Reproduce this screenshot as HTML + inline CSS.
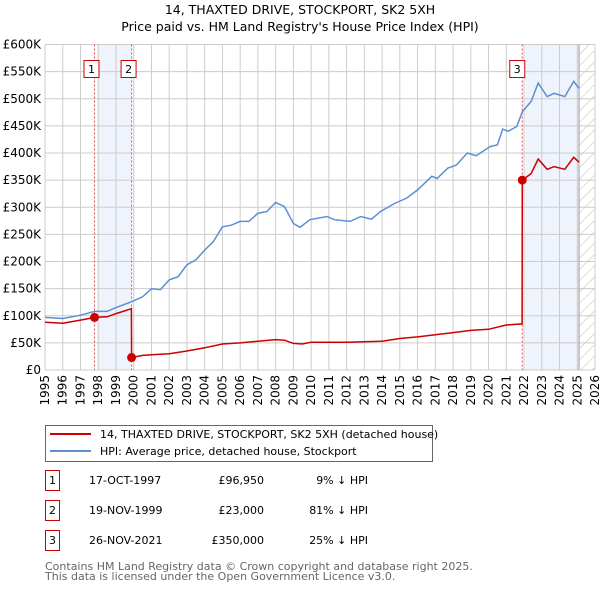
<!DOCTYPE html>
<html><head><meta charset="utf-8"><style>
body{margin:0;background:#fff;font-family:"Liberation Sans","DejaVu Sans",sans-serif;}
svg{display:block}
</style></head><body>
<svg id="chart" width="600" height="590" viewBox="0 0 600 590" xmlns="http://www.w3.org/2000/svg" font-family="DejaVu Sans, Liberation Sans, sans-serif">
<defs><pattern id="hatch" width="8" height="8" patternUnits="userSpaceOnUse" patternTransform="rotate(45)"><line x1="0" y1="0" x2="0" y2="8" stroke="#bbb" stroke-width="1"/></pattern></defs>
<text x="300" y="14" font-size="12.5" text-anchor="middle">14, THAXTED DRIVE, STOCKPORT, SK2 5XH</text>
<text x="300" y="31" font-size="12.5" text-anchor="middle">Price paid vs. HM Land Registry's House Price Index (HPI)</text>
<g id="plot"></g>
<g>
<rect x="45.5" y="425.5" width="387" height="36" fill="#fff" stroke="#666"/>
<line x1="50" y1="434" x2="91" y2="434" stroke="#cc0000" stroke-width="2"/>
<text x="100" y="438" font-size="11">14, THAXTED DRIVE, STOCKPORT, SK2 5XH (detached house)</text>
<line x1="50" y1="451" x2="91" y2="451" stroke="#5b8fd4" stroke-width="2"/>
<text x="100" y="455" font-size="11">HPI: Average price, detached house, Stockport</text>
</g>
<g id="table" font-size="11"></g>
<text x="45" y="570" font-size="11" fill="#666">Contains HM Land Registry data © Crown copyright and database right 2025.</text>
<text x="45" y="580" font-size="11" fill="#666">This data is licensed under the Open Government Licence v3.0.</text>
</svg>
<script>
const hpiYears=[1995,1996,1997,1997.8,1998.5,1999,1999.9,2000.5,2001,2001.5,2002,2002.5,2003,2003.5,2004,2004.5,2005,2005.5,2006,2006.5,2007,2007.5,2008,2008.5,2009,2009.37,2009.93,2010.9,2011.3,2012.2,2012.8,2013.4,2013.9,2014.7,2015.4,2016,2016.8,2017.1,2017.7,2018.2,2018.8,2019.3,2020.1,2020.5,2020.8,2021.1,2021.6,2021.9,2022.4,2022.8,2023.3,2023.7,2024.3,2024.8,2025.1];
const hpiValues=[97,95,101,108,108,115,126,135,150,148,166,172,194,203,221,237,264,267,274,274,289,292,309,301,270,263,277,283,277,274,283,278,292,307,317,332,357,353,372,378,400,395,412,415,444,440,449,476,495,529,504,510,504,532,519];
const redYears=[1995,1996,1997,1997.8,1998.5,1999,1999.87,1999.88,2000.5,2001,2002,2003,2004,2005,2006,2007,2008,2008.5,2009,2009.5,2010,2012,2014,2015,2016,2017,2018,2019,2020,2021,2021.89,2021.9,2022.4,2022.8,2023.3,2023.7,2024.3,2024.8,2025.1];
const redValues=[88,86,92,96.95,98,104,113,23,27,28,30,35,41,48,50,53,56,55,49,48,51,51,53,58,61,65,69,73,75,83,85,350,362,389,370,375,370,392,383];
const saleYears=[1997.79,1999.88,2021.9];
const saleValues=[96.95,23,350];
const saleLabels=["1","2","3"];
const saleDates=["17-OCT-1997","19-NOV-1999","26-NOV-2021"];
const salePrices=["£96,950","£23,000","£350,000"];
const saleDiffs=["9% ↓ HPI","81% ↓ HPI","25% ↓ HPI"];
const yTicks=[0,50,100,150,200,250,300,350,400,450,500,550,600];
const xTicks=[1995,1996,1997,1998,1999,2000,2001,2002,2003,2004,2005,2006,2007,2008,2009,2010,2011,2012,2013,2014,2015,2016,2017,2018,2019,2020,2021,2022,2023,2024,2025,2026];

const X0=45,X1=595,Y0=370,Y1=44.5;
const xs=y=>X0+(y-1995)/(2026-1995)*(X1-X0);
const ys=v=>Y0-v/600*(Y0-Y1);
const NS="http://www.w3.org/2000/svg";
const plot=document.getElementById('plot');
function mk(tag,attrs,parent){const e=document.createElementNS(NS,tag);for(const k in attrs)e.setAttribute(k,attrs[k]);(parent||plot).appendChild(e);return e;}

let e;
e=mk('rect',{x:xs(1997.95),y:Y1,width:xs(1999.88)-xs(1997.95),height:Y0-Y1,fill:'#eef3fc'});


e=mk('rect',{x:xs(2022.05),y:Y1,width:xs(2025.1)-xs(2022.05),height:Y0-Y1,fill:'#eef3fc'});


e=mk('rect',{x:xs(2025.1),y:Y1,width:X1-xs(2025.1),height:Y0-Y1,fill:'url(#hatch)'});



yTicks.forEach(v=>{
  e=mk('line',{x1:X0,x2:X1,y1:ys(v),y2:ys(v),stroke:'#ccc','stroke-width':1});
  
  
  e=mk('text',{x:X0-4,y:ys(v)+4,'font-size':12,'text-anchor':'end'});
  e.textContent=v===0?'£0':'£'+v+'K';
  
  
});
xTicks.forEach(y=>{
  e=mk('line',{x1:xs(y),x2:xs(y),y1:Y1,y2:Y0,stroke:'#ccc','stroke-width':1});
  
  
  e=mk('text',{x:0,y:0,'font-size':12,'text-anchor':'end',transform:`translate(${xs(y)+4},${Y0+5}) rotate(-90)`});
  e.textContent=y;
  
  
});
e=mk('line',{x1:xs(2025.1),x2:xs(2025.1),y1:Y1,y2:Y0,stroke:'#999','stroke-width':1});



saleYears.forEach((y,i)=>{
  e=mk('line',{x1:xs(y),x2:xs(y),y1:Y1,y2:Y0,stroke:'#e05060','stroke-width':1,'stroke-dasharray':'2,2'});
  
  
});

const path=(xa,va)=>xa.map((y,i)=>(i?'L':'M')+xs(y).toFixed(1)+','+ys(va[i]).toFixed(1)).join('');
e=mk('path',{d:path(hpiYears,hpiValues),fill:'none',stroke:'#5b8fd4','stroke-width':1.5});


e=mk('path',{d:path(redYears,redValues),fill:'none',stroke:'#cc0000','stroke-width':1.5});



const labelOffsets=[-3,-3,-5];
saleYears.forEach((y,i)=>{
  e=mk('circle',{cx:xs(y),cy:ys(saleValues[i]),r:4.5,fill:'#cc0000'});
  
  
  const g=mk('g',{});
  
  
  const cx=xs(y)+labelOffsets[i];
  mk('rect',{x:cx-7.5,y:60.5,width:15,height:17,fill:'#fff',stroke:'#cc0000'},g);
  const t=mk('text',{x:cx,y:73,'font-size':11,'text-anchor':'middle'},g);
  t.textContent=saleLabels[i];
});

const tbl=document.getElementById('table');
saleLabels.forEach((l,i)=>{
  const yy=483+i*30;
  const g=mk('g',{},tbl);
  
  
  mk('rect',{x:45.5,y:yy-12.5,width:14,height:20,fill:'#fff',stroke:'#cc0000'},g);
  let t=mk('text',{x:52.5,y:yy+1,'text-anchor':'middle'},g);t.textContent=l;
  t=mk('text',{x:89,y:yy+1},g);t.textContent=saleDates[i];
  t=mk('text',{x:264,y:yy+1,'text-anchor':'end'},g);t.textContent=salePrices[i];
  t=mk('text',{x:368,y:yy+1,'text-anchor':'end'},g);t.textContent=saleDiffs[i];
});
</script>
</body></html>
